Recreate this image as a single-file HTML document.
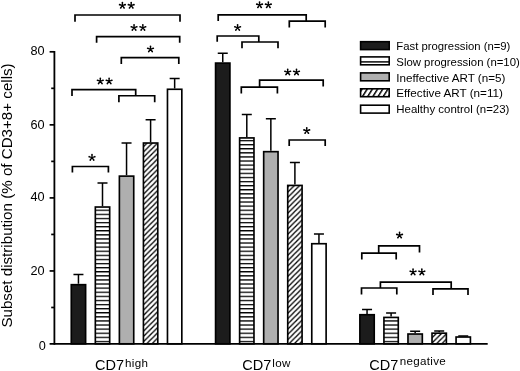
<!DOCTYPE html>
<html><head><meta charset="utf-8"><style>
html,body{margin:0;padding:0;background:#fff;width:520px;height:371px;overflow:hidden}
svg{display:block;filter:grayscale(1)}
text{font-family:"Liberation Sans",sans-serif;fill:#000}
.tl{font-size:12.7px}
.lg{font-size:11.3px}
.yt{font-size:15.15px}
.xl{font-size:14.5px}
.sup{font-size:11.6px;letter-spacing:0.3px}
</style></head><body>
<svg width="520" height="371" viewBox="0 0 520 371">
<defs>
<g id="star"><path d="M0.450 0.000L0.850 -2.950A0.85 0.85 0 0 0 -0.850 -2.950L-0.450 -0.000ZM0.139 0.428L3.068 -0.103A0.85 0.85 0 0 0 2.543 -1.720L-0.139 -0.428ZM-0.364 0.265L1.046 2.886A0.85 0.85 0 0 0 2.422 1.887L0.364 -0.265ZM-0.364 -0.265L-2.422 1.887A0.85 0.85 0 0 0 -1.046 2.886L0.364 0.265ZM0.139 -0.428L-2.543 -1.720A0.85 0.85 0 0 0 -3.068 -0.103L-0.139 0.428Z" fill="#000"/><circle r="0.95" fill="#000"/></g>
<pattern id="stripe" patternUnits="userSpaceOnUse" x="0" y="340.8" width="40" height="4.1"><rect width="40" height="4.1" fill="#fff"/><rect y="0" width="40" height="1.3" fill="#000"/></pattern>
<pattern id="hatch" patternUnits="userSpaceOnUse" x="0" y="5.6" width="5.27" height="5.27"><rect width="5.27" height="5.27" fill="#fff"/><path d="M-1 1L1 -1M-1 6.27L6.27 -1M4.27 6.27L6.27 4.27" stroke="#000" stroke-width="1.25"/></pattern>
<pattern id="hatchL" patternUnits="userSpaceOnUse" x="1.4" width="4.4" height="5.2" patternTransform="rotate(32)"><rect width="4.4" height="5.2" fill="#fff"/><rect width="1.5" height="5.2" fill="#000"/></pattern>
</defs>
<g><rect x="71.28" y="284.68" width="14.35" height="59.12" fill="#1c1c1c" stroke="#000" stroke-width="1.65"/><path d="M78.45 283.85V274.45M73.45 274.45H83.45" stroke="#000" stroke-width="1.5" fill="none"/><rect x="95.33" y="207.02" width="14.35" height="136.78" fill="url(#stripe)" stroke="#000" stroke-width="1.65"/><path d="M102.50 206.20V183.10M97.50 183.10H107.50" stroke="#000" stroke-width="1.5" fill="none"/><rect x="119.38" y="176.12" width="14.35" height="167.68" fill="#afafaf" stroke="#000" stroke-width="1.65"/><path d="M126.55 175.30V143.10M121.55 143.10H131.55" stroke="#000" stroke-width="1.5" fill="none"/><rect x="143.43" y="143.02" width="14.35" height="200.78" fill="url(#hatch)" stroke="#000" stroke-width="1.65"/><path d="M150.60 142.20V119.70M145.60 119.70H155.60" stroke="#000" stroke-width="1.5" fill="none"/><rect x="167.47" y="89.28" width="14.35" height="254.53" fill="#fff" stroke="#000" stroke-width="1.65"/><path d="M174.65 88.45V78.50M169.65 78.50H179.65" stroke="#000" stroke-width="1.5" fill="none"/><rect x="215.57" y="63.08" width="14.35" height="280.73" fill="#1c1c1c" stroke="#000" stroke-width="1.65"/><path d="M222.75 62.25V53.20M217.75 53.20H227.75" stroke="#000" stroke-width="1.5" fill="none"/><rect x="239.62" y="137.92" width="14.35" height="205.88" fill="url(#stripe)" stroke="#000" stroke-width="1.65"/><path d="M246.80 137.10V114.50M241.80 114.50H251.80" stroke="#000" stroke-width="1.5" fill="none"/><rect x="263.68" y="151.67" width="14.35" height="192.13" fill="#afafaf" stroke="#000" stroke-width="1.65"/><path d="M270.85 150.85V118.70M265.85 118.70H275.85" stroke="#000" stroke-width="1.5" fill="none"/><rect x="287.73" y="185.42" width="14.35" height="158.38" fill="url(#hatch)" stroke="#000" stroke-width="1.65"/><path d="M294.90 184.60V162.45M289.90 162.45H299.90" stroke="#000" stroke-width="1.5" fill="none"/><rect x="311.77" y="243.72" width="14.35" height="100.08" fill="#fff" stroke="#000" stroke-width="1.65"/><path d="M318.95 242.90V233.90M313.95 233.90H323.95" stroke="#000" stroke-width="1.5" fill="none"/><rect x="359.88" y="314.72" width="14.35" height="29.08" fill="#1c1c1c" stroke="#000" stroke-width="1.65"/><path d="M367.05 313.90V309.40M362.05 309.40H372.05" stroke="#000" stroke-width="1.5" fill="none"/><rect x="383.93" y="317.43" width="14.35" height="26.38" fill="url(#stripe)" stroke="#000" stroke-width="1.65"/><path d="M391.10 316.60V312.90M386.10 312.90H396.10" stroke="#000" stroke-width="1.5" fill="none"/><rect x="407.97" y="334.02" width="14.35" height="9.78" fill="#afafaf" stroke="#000" stroke-width="1.65"/><path d="M415.15 333.20V331.30M410.15 331.30H420.15" stroke="#000" stroke-width="1.5" fill="none"/><rect x="432.02" y="333.18" width="14.35" height="10.62" fill="url(#hatch)" stroke="#000" stroke-width="1.65"/><path d="M439.20 332.35V330.90M434.20 330.90H444.20" stroke="#000" stroke-width="1.5" fill="none"/><rect x="456.07" y="337.02" width="14.35" height="6.78" fill="#fff" stroke="#000" stroke-width="1.65"/><path d="M463.25 336.20V336.00M458.25 336.00H468.25" stroke="#000" stroke-width="1.5" fill="none"/></g>
<g stroke="#000" stroke-width="1.7" fill="none" stroke-linejoin="miter" stroke-linecap="butt"><path d="M75.0 21.7V15.0H180.0V21.7"/><path d="M96.6 42.7V36.6H179.7V42.7"/><path d="M121.3 64.0V57.7H178.8V64.0"/><path d="M72.0 96.0V89.6H135.7V95.75"/><path d="M118.9 102.3V95.75H154.7V102.3"/><path d="M72.4 172.4V166.5H108.4V172.4"/><path d="M218.2 20.9V14.8H306.2V21.05"/><path d="M289.3 27.5V21.05H325.2V27.5"/><path d="M217.2 41.8V36.0H258.8V42.0"/><path d="M242.0 48.3V42.0H278.0V48.3"/><path d="M259.6 87.2V80.2H323.2V86.6"/><path d="M241.3 93.4V87.2H277.4V93.4"/><path d="M289.2 146.0V140.0H325.2V146.0"/><path d="M378.7 253.2V245.9H419.5V252.5"/><path d="M361.8 259.6V253.2H396.2V259.6"/><path d="M380.4 288.0V282.2H451.2V288.8"/><path d="M361.5 294.45V288.0H396.8V294.45"/><path d="M433.0 294.9V288.8H468.0V294.9"/></g>
<path d="M49.6 343.8H487.7" stroke="#000" stroke-width="1.8" fill="none"/><path d="M54.4 50.90V344.7" stroke="#000" stroke-width="1.8" fill="none"/><path d="M49.6 270.95H54.4" stroke="#000" stroke-width="1.7"/><path d="M49.6 197.90H54.4" stroke="#000" stroke-width="1.7"/><path d="M49.6 124.85H54.4" stroke="#000" stroke-width="1.7"/><path d="M49.6 51.80H54.4" stroke="#000" stroke-width="1.7"/><path d="M51.2 307.48H54.4" stroke="#000" stroke-width="1.7"/><path d="M51.2 234.43H54.4" stroke="#000" stroke-width="1.7"/><path d="M51.2 161.38H54.4" stroke="#000" stroke-width="1.7"/><path d="M51.2 88.33H54.4" stroke="#000" stroke-width="1.7"/>
<text x="45.8" y="349.75" text-anchor="end" class="tl">0</text><text x="44.7" y="275.40" text-anchor="end" class="tl">20</text><text x="44.7" y="201.25" text-anchor="end" class="tl">40</text><text x="44.7" y="128.55" text-anchor="end" class="tl">60</text><text x="44.7" y="54.65" text-anchor="end" class="tl">80</text>
<use href="#star" x="122.40" y="5.55"/><use href="#star" x="131.20" y="5.55"/><use href="#star" x="134.05" y="27.70"/><use href="#star" x="142.85" y="27.70"/><use href="#star" x="150.50" y="49.20"/><use href="#star" x="100.30" y="81.20"/><use href="#star" x="109.10" y="81.20"/><use href="#star" x="92.00" y="157.60"/><use href="#star" x="259.55" y="5.05"/><use href="#star" x="268.35" y="5.05"/><use href="#star" x="237.60" y="27.70"/><use href="#star" x="287.70" y="72.20"/><use href="#star" x="296.50" y="72.20"/><use href="#star" x="306.75" y="130.80"/><use href="#star" x="399.55" y="235.30"/><use href="#star" x="413.05" y="272.15"/><use href="#star" x="421.85" y="272.15"/>
<rect x="360.6" y="41.70" width="28.6" height="7.9" fill="#1c1c1c" stroke="#000" stroke-width="1.6"/><text x="396.3" y="49.80" class="lg" textLength="114.1" lengthAdjust="spacingAndGlyphs">Fast progression (n=9)</text><rect x="360.6" y="56.90" width="28.6" height="7.9" fill="#fff" stroke="#000" stroke-width="1.6"/><path d="M361 61.9H389" stroke="#000" stroke-width="1.45"/><text x="396.3" y="65.65" class="lg" textLength="123.5" lengthAdjust="spacingAndGlyphs">Slow progression (n=10)</text><rect x="360.6" y="72.90" width="28.6" height="7.9" fill="#afafaf" stroke="#000" stroke-width="1.6"/><text x="396.3" y="81.50" class="lg" textLength="109.1" lengthAdjust="spacingAndGlyphs">Ineffective ART (n=5)</text><rect x="360.6" y="88.80" width="28.6" height="7.9" fill="url(#hatchL)" stroke="#000" stroke-width="1.6"/><text x="396.3" y="97.35" class="lg" textLength="106.6" lengthAdjust="spacingAndGlyphs">Effective ART (n=11)</text><rect x="360.6" y="105.20" width="28.6" height="7.9" fill="#fff" stroke="#000" stroke-width="1.6"/><text x="396.3" y="113.20" class="lg" textLength="113.1" lengthAdjust="spacingAndGlyphs">Healthy control (n=23)</text>
<text transform="translate(12.3 327.6) rotate(-90)" class="yt">Subset distribution (% of CD3+8+ cells)</text>
<text x="95.1" y="369.8" class="xl">CD7<tspan class="sup" dx="1.0" dy="-3.3">high</tspan></text>
<text x="242.3" y="369.8" class="xl">CD7<tspan class="sup" dx="1.0" dy="-3.3">low</tspan></text>
<text x="369.2" y="369.8" class="xl">CD7<tspan class="sup" dx="1.6" dy="-4.8">negative</tspan></text>
</svg>
</body></html>
